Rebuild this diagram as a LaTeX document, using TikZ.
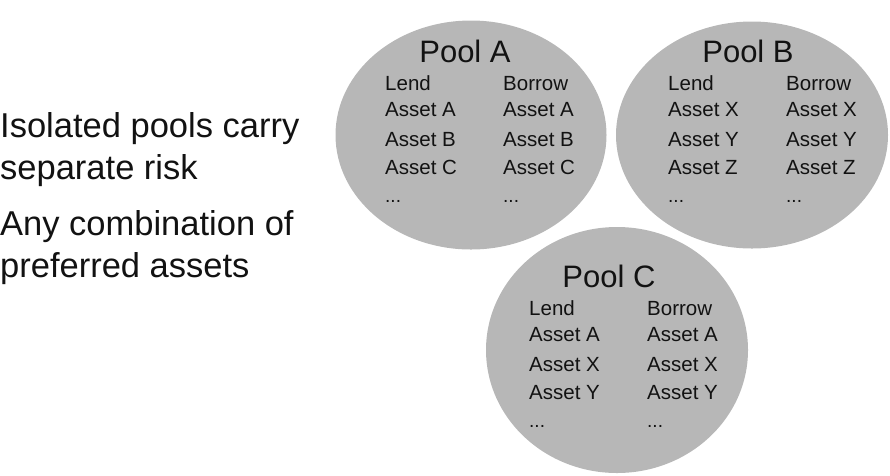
\documentclass[tikz,border=0pt]{standalone}
\usepackage{fontspec}
\setmainfont{Liberation Sans}
\usetikzlibrary{positioning,shapes.geometric}
\definecolor{PoolGray}{HTML}{B7B7B7}
\definecolor{Ink}{HTML}{121212}
\tikzset{
  pool/.style={ellipse,fill=PoolGray,draw=none,inner sep=0pt},
  poolTitle/.style={font=\fontsize{31}{36}\selectfont,text=Ink,anchor=base,inner sep=0pt},
  poolItem/.style={font=\fontsize{20.5}{24}\selectfont,text=Ink,anchor=base west,inner sep=0pt},
  note/.style={font=\fontsize{34.5}{42}\selectfont,text=Ink,align=left,anchor=north west,inner sep=0pt}
}
\begin{document}
\begin{tikzpicture}[x=1pt,y=-1pt]
  \useasboundingbox (0,0) rectangle (890,475);
  % the three pools
  \node[pool,minimum width=271pt,minimum height=229pt] (poolA) at (471,135) {};
  \node[pool,minimum width=272pt,minimum height=227pt] (poolB) at (752,135) {};
  \node[pool,minimum width=262pt,minimum height=246pt] (poolC) at (617,350) {};
  \foreach \p/\dx/\dy/\a/\b/\c in {A/0/0/A/B/C, B/283/0/X/Y/Z, C/144/225/A/X/Y}{
    \node[poolTitle] (title\p) at (465+\dx,62+\dy) {Pool \p};
    \node[poolItem] (lend\p) at (385+\dx,90+\dy) {Lend};
    \node[poolItem] (borrow\p) at (503+\dx,90+\dy) {Borrow};
    \node[poolItem] (lendOne\p) at (385+\dx,116+\dy) {Asset \a};
    \node[poolItem] (borrowOne\p) at (503+\dx,116+\dy) {Asset \a};
    \node[poolItem] (lendTwo\p) at (385+\dx,146+\dy) {Asset \b};
    \node[poolItem] (borrowTwo\p) at (503+\dx,146+\dy) {Asset \b};
    \node[poolItem] (lendThree\p) at (385+\dx,174+\dy) {Asset \c};
    \node[poolItem] (borrowThree\p) at (503+\dx,174+\dy) {Asset \c};
    \node[poolItem,font=\fontsize{19}{22}\selectfont] (lendMore\p) at (385+\dx,202+\dy) {...};
    \node[poolItem,font=\fontsize{19}{22}\selectfont] (borrowMore\p) at (503+\dx,202+\dy) {...};
  }
  % notes on the left
  \node[note] (isolated) at (0,112) {Isolated pools carry\\separate risk};
  \node[note] (combination) at (0,210) {Any combination of\\preferred assets};
\end{tikzpicture}
\end{document}
